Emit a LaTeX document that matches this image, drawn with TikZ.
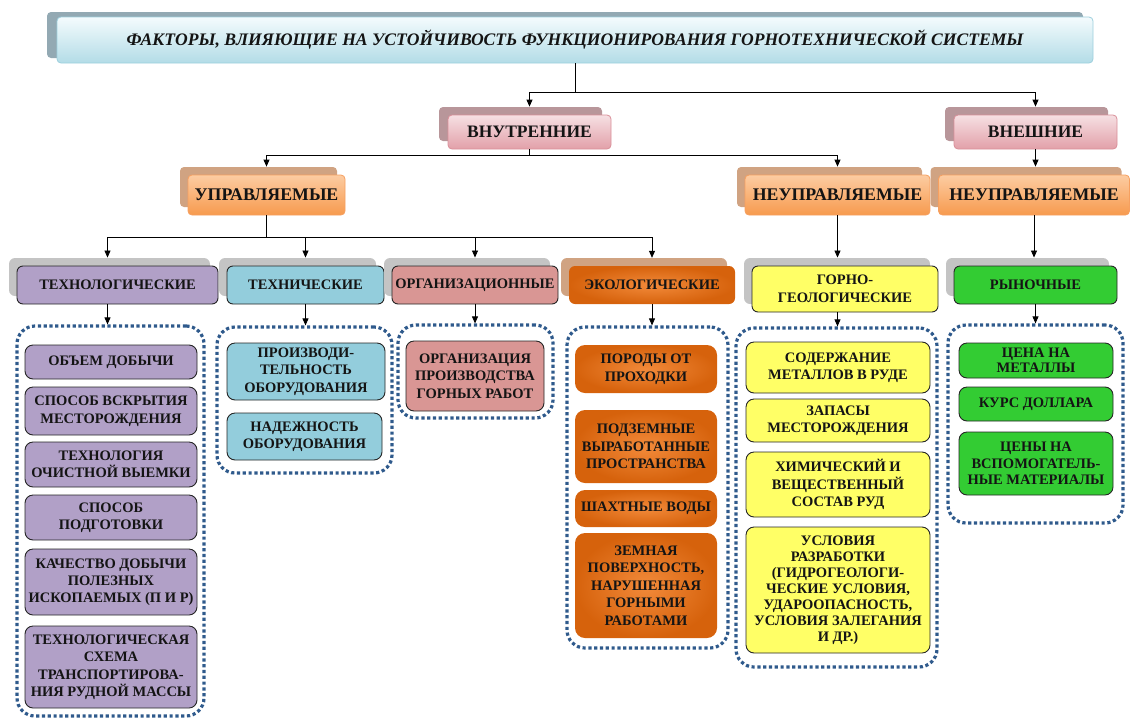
\documentclass[tikz,border=0pt]{standalone}
\usepackage{fontspec}
\setmainfont{Liberation Serif}
\usetikzlibrary{arrows.meta,shadows}
\definecolor{txt}{HTML}{141414}
\definecolor{ttop}{HTML}{F4FBFD}
\definecolor{tbot}{HTML}{B3DCE7}
\definecolor{tbrd}{HTML}{9DCFDD}
\definecolor{tsh}{HTML}{93A9B3}
\definecolor{ptop}{HTML}{F6E0E3}
\definecolor{pbot}{HTML}{E2A0A9}
\definecolor{pbrd}{HTML}{D98F99}
\definecolor{psh}{HTML}{B8969A}
\definecolor{otop}{HTML}{FCCCA2}
\definecolor{obot}{HTML}{F79A4E}
\definecolor{obrd}{HTML}{F6A060}
\definecolor{osh}{HTML}{D0A382}
\definecolor{gsh}{HTML}{C4C4C4}
\definecolor{cpur}{HTML}{B1A0C7}
\definecolor{cblu}{HTML}{93CDDC}
\definecolor{crose}{HTML}{D99694}
\definecolor{cyel}{HTML}{FFFF66}
\definecolor{cgrn}{HTML}{33CC33}
\definecolor{ecoin}{HTML}{F28A3A}
\definecolor{ecoout}{HTML}{D6620C}
\definecolor{dotb}{HTML}{2F5A8C}
\definecolor{ibrd}{HTML}{262626}
\begin{document}
\begin{tikzpicture}[x=1pt,y=-1pt,
  ln/.style={draw=black,line width=0.8pt},
  arr/.style={ln,-{Triangle[length=7pt,width=6pt]}},
  lbl/.style={align=center,inner sep=0pt,text=txt,font=\bfseries\fontsize{14.5}{17.5}\selectfont},
  titlebox/.style={lbl,rounded corners=4pt,draw=tbrd,line width=0.8pt,top color=ttop,bottom color=tbot,
    font=\bfseries\itshape\fontsize{17.6}{20}\selectfont,
    drop shadow={shadow xshift=-10pt,shadow yshift=5pt,fill=tsh,opacity=1}},
  pinkbox/.style={lbl,rounded corners=4pt,draw=pbrd,line width=0.8pt,top color=ptop,bottom color=pbot,
    font=\bfseries\fontsize{17.5}{20}\selectfont,
    drop shadow={shadow xshift=-9pt,shadow yshift=8pt,fill=psh,opacity=1}},
  orbox/.style={lbl,rounded corners=4pt,draw=obrd,line width=0.8pt,top color=otop,bottom color=obot,
    font=\bfseries\fontsize{17.8}{20}\selectfont,
    drop shadow={shadow xshift=-8pt,shadow yshift=8pt,fill=osh,opacity=1}},
  catbox/.style={lbl,rounded corners=6pt,draw=ibrd,line width=0.9pt,
    drop shadow={shadow xshift=-8pt,shadow yshift=8pt,fill=gsh,opacity=1}},
  ecocat/.style={lbl,rounded corners=6pt,inner color=ecoin,outer color=ecoout,
    drop shadow={shadow xshift=-8pt,shadow yshift=8pt,fill=osh,opacity=1}},
  grp/.style={draw=dotb,line width=3.2pt,dash pattern=on 3.2pt off 2.6pt,rounded corners=18pt,inner sep=0pt},
  item/.style={lbl,rounded corners=8pt,draw=ibrd,line width=0.9pt},
  ecoitem/.style={lbl,rounded corners=10pt,inner color=ecoin,outer color=ecoout},
]
\useasboundingbox (0,0) rectangle (1132,718);

% ---------- title and level 1 ----------
\node[titlebox,minimum width=1036pt,minimum height=46pt] (ttl) at (575,40)
  {ФАКТОРЫ, ВЛИЯЮЩИЕ НА УСТОЙЧИВОСТЬ ФУНКЦИОНИРОВАНИЯ ГОРНОТЕХНИЧЕСКОЙ СИСТЕМЫ};
\node[pinkbox,minimum width=163pt,minimum height=34pt] (vn) at (529.5,132) {ВНУТРЕННИЕ};
\node[pinkbox,minimum width=163pt,minimum height=34pt] (ve) at (1035.5,132) {ВНЕШНИЕ};

% ---------- level 2 ----------
\node[orbox,minimum width=157pt,minimum height=40pt] (up) at (266.5,195) {УПРАВЛЯЕМЫЕ};
\node[orbox,minimum width=185pt,minimum height=40pt] (nu1) at (837.5,195) {НЕУПРАВЛЯЕМЫЕ};
\node[orbox,minimum width=191pt,minimum height=40pt] (nu2) at (1034,195) {НЕУПРАВЛЯЕМЫЕ};

% ---------- level 3 ----------
\node[catbox,fill=cpur,minimum width=201pt,minimum height=38pt] (t1) at (117.5,285) {ТЕХНОЛОГИЧЕСКИЕ};
\node[catbox,fill=cblu,minimum width=157pt,minimum height=38pt] (t2) at (305.5,285) {ТЕХНИЧЕСКИЕ};
\node[catbox,fill=crose,minimum width=166pt,minimum height=38pt] (t3) at (475,285) {ОРГАНИЗАЦИОННЫЕ};
\node[ecocat,minimum width=166pt,minimum height=38pt] (t4) at (652,285) {ЭКОЛОГИЧЕСКИЕ};
\node[catbox,fill=cyel,minimum width=186pt,minimum height=46pt] (t5) at (845,289) {ГОРНО-\\ГЕОЛОГИЧЕСКИЕ};
\node[catbox,fill=cgrn,minimum width=163pt,minimum height=38pt] (t6) at (1035.5,285) {РЫНОЧНЫЕ};

% ---------- groups ----------
\node[grp,minimum width=187pt,minimum height=390pt] (g1) at (110.5,521) {};
\node[grp,minimum width=175pt,minimum height=146pt] (g2) at (304.5,400) {};
\node[grp,minimum width=155pt,minimum height=93pt] (g3) at (475.5,371.5) {};
\node[grp,minimum width=161pt,minimum height=321pt] (g4) at (647.5,487.5) {};
\node[grp,minimum width=201pt,minimum height=339pt] (g5) at (836.5,497.5) {};
\node[grp,minimum width=175pt,minimum height=198pt] (g6) at (1035.5,424) {};

% ---------- items ----------
\node[item,fill=cpur,minimum width=172pt,minimum height=34pt] (i11) at (111,362) {ОБЪЕМ ДОБЫЧИ};
\node[item,fill=cpur,minimum width=172pt,minimum height=48pt] (i12) at (111,411) {СПОСОБ ВСКРЫТИЯ\\МЕСТОРОЖДЕНИЯ};
\node[item,fill=cpur,minimum width=172pt,minimum height=45pt] (i13) at (111,464.5) {ТЕХНОЛОГИЯ\\ОЧИСТНОЙ ВЫЕМКИ};
\node[item,fill=cpur,minimum width=172pt,minimum height=45pt] (i14) at (111,517.5) {СПОСОБ\\ПОДГОТОВКИ};
\node[item,fill=cpur,minimum width=172pt,minimum height=66pt,font=\bfseries\fontsize{14.5}{17}\selectfont] (i15) at (111,582) {КАЧЕСТВО ДОБЫЧИ\\ПОЛЕЗНЫХ\\ИСКОПАЕМЫХ (П И Р)};
\node[item,fill=cpur,minimum width=172pt,minimum height=82pt] (i16) at (111,667) {ТЕХНОЛОГИЧЕСКАЯ\\СХЕМА\\ТРАНСПОРТИРОВА-\\НИЯ РУДНОЙ МАССЫ};

\node[item,fill=cblu,minimum width=158pt,minimum height=57pt] (i21) at (306,371.5) {ПРОИЗВОДИ-\\ТЕЛЬНОСТЬ\\ОБОРУДОВАНИЯ};
\node[item,fill=cblu,minimum width=155pt,minimum height=47pt] (i22) at (304.5,436.5) {НАДЕЖНОСТЬ\\ОБОРУДОВАНИЯ};

\node[item,fill=crose,minimum width=138pt,minimum height=70pt] (i31) at (475,376) {ОРГАНИЗАЦИЯ\\ПРОИЗВОДСТВА\\ГОРНЫХ РАБОТ};

\node[ecoitem,minimum width=142pt,minimum height=48pt] (i41) at (646,369) {ПОРОДЫ ОТ\\ПРОХОДКИ};
\node[ecoitem,minimum width=142pt,minimum height=73pt] (i42) at (646,446.5) {ПОДЗЕМНЫЕ\\ВЫРАБОТАННЫЕ\\ПРОСТРАНСТВА};
\node[ecoitem,minimum width=142pt,minimum height=37pt] (i43) at (646,508.5) {ШАХТНЫЕ ВОДЫ};
\node[ecoitem,minimum width=142pt,minimum height=105pt] (i44) at (646,585.5) {ЗЕМНАЯ\\ПОВЕРХНОСТЬ,\\НАРУШЕННАЯ\\ГОРНЫМИ\\РАБОТАМИ};

\node[item,fill=cyel,minimum width=184pt,minimum height=51pt] (i51) at (838,367.5) {СОДЕРЖАНИЕ\\МЕТАЛЛОВ В РУДЕ};
\node[item,fill=cyel,minimum width=184pt,minimum height=43pt] (i52) at (838,420.5) {ЗАПАСЫ\\МЕСТОРОЖДЕНИЯ};
\node[item,fill=cyel,minimum width=184pt,minimum height=65pt] (i53) at (838,484.5) {ХИМИЧЕСКИЙ И\\ВЕЩЕСТВЕННЫЙ\\СОСТАВ РУД};
\node[item,fill=cyel,minimum width=184pt,minimum height=126pt,font=\bfseries\fontsize{14.5}{16}\selectfont] (i54) at (838,590) {УСЛОВИЯ\\РАЗРАБОТКИ\\(ГИДРОГЕОЛОГИ-\\ЧЕСКИЕ УСЛОВИЯ,\\УДАРООПАСНОСТЬ,\\УСЛОВИЯ ЗАЛЕГАНИЯ\\И ДР.)};

\node[item,fill=cgrn,minimum width=154pt,minimum height=35pt,font=\bfseries\fontsize{14.5}{15}\selectfont] (i61) at (1036,360.5) {ЦЕНА НА\\МЕТАЛЛЫ};
\node[item,fill=cgrn,minimum width=154pt,minimum height=34pt] (i62) at (1036,404) {КУРС ДОЛЛАРА};
\node[item,fill=cgrn,minimum width=154pt,minimum height=63pt,font=\bfseries\fontsize{14.5}{16.5}\selectfont] (i63) at (1036,463.5) {ЦЕНЫ НА\\ВСПОМОГАТЕЛЬ-\\НЫЕ МАТЕРИАЛЫ};

% ---------- connectors ----------
\coordinate (j0) at ([yshift=-29pt]ttl.south);
\draw[ln] (ttl.south) -- (j0);
\draw[arr] (j0) -| ([yshift=8pt]vn.north);
\draw[arr] (j0) -| ([yshift=8pt]ve.north);

\coordinate (j1) at ([yshift=-6pt]vn.south);
\draw[ln] (vn.south) -- (j1);
\draw[arr] (j1) -| ([yshift=8pt]up.north);
\draw[arr] (j1) -| ([yshift=8pt]nu1.north);
\draw[arr] (ve.south) -- ([yshift=8pt]ve.south |- nu2.north);

\coordinate (j2) at ([yshift=-22pt]up.south);
\draw[ln] (up.south) -- (j2);
\draw[arr] (j2) -| ([xshift=-10pt,yshift=8pt]t1.north);
\draw[arr] (j2) -| ([yshift=8pt]t2.north);
\draw[arr] (j2) -| ([yshift=8pt]t3.north);
\draw[arr] (j2) -| ([yshift=8pt]t4.north);
\draw[arr] (nu1.south) -- ([yshift=8pt]nu1.south |- t5.north);
\draw[arr] (nu2.south) -- ([yshift=8pt]nu2.south |- t6.north);

\draw[arr] ([xshift=-10pt]t1.south) -- ([xshift=-10pt]t1.south |- g1.north);
\draw[arr] (t2.south) -- (t2.south |- g2.north);
\draw[arr] (t3.south) -- (t3.south |- g3.north);
\draw[arr] (t4.south) -- (t4.south |- g4.north);
\draw[arr] (nu1.south |- t5.south) -- (nu1.south |- g5.north);
\draw[arr] (t6.south) -- (t6.south |- g6.north);
\end{tikzpicture}
\end{document}
